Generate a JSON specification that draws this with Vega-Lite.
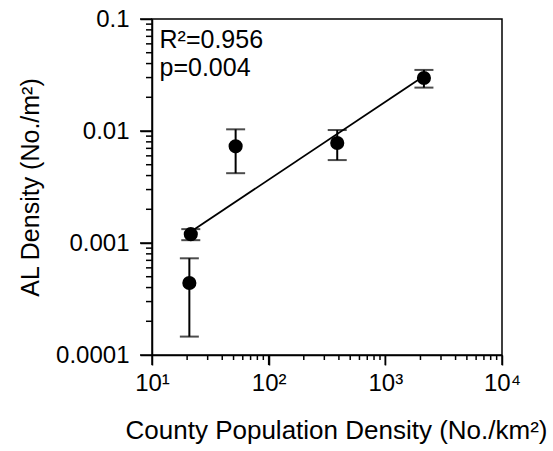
{
  "$schema": "https://vega.github.io/schema/vega-lite/v6.json",
  "width": 350,
  "height": 336,
  "autosize": "none",
  "padding": {"left": 152, "top": 19, "right": 51, "bottom": 96},
  "background": "white",
  "config": {
    "font": "Liberation Sans",
    "view": {"stroke": "black", "strokeWidth": 1.5},
    "axis": {
      "grid": false,
      "ticks": true,
      "domain": true,
      "domainColor": "#000000",
      "domainWidth": 1.5,
      "tickColor": "#000000",
      "tickWidth": 1.5,
      "labelColor": "#000000",
      "titleColor": "#000000",
      "labelFont": "Liberation Sans",
      "titleFont": "Liberation Sans",
      "labelFontSize": 24,
      "titleFontSize": 25,
      "titleFontWeight": "normal",
      "labelOverlap": false,
      "labelFlush": false
    }
  },
  "datasets": {
    "pts": [
      {"x": 21.5, "y": 0.00120, "lo": 0.00106, "hi": 0.00133},
      {"x": 20.9, "y": 0.000439, "lo": 0.000146, "hi": 0.00073},
      {"x": 52.1, "y": 0.0073, "lo": 0.0042, "hi": 0.01035},
      {"x": 387, "y": 0.00781, "lo": 0.0055, "hi": 0.0102},
      {"x": 2142, "y": 0.0297, "lo": 0.0244, "hi": 0.0351}
    ],
    "fit": [
      {"x": 22.6, "y": 0.001306},
      {"x": 2099, "y": 0.0305}
    ],
    "xMajor": [{"v": 10}, {"v": 100}, {"v": 1000}, {"v": 10000}],
    "xMinor": [{"v": 20}, {"v": 30}, {"v": 40}, {"v": 50}, {"v": 60}, {"v": 70}, {"v": 80}, {"v": 90}, {"v": 200}, {"v": 300}, {"v": 400}, {"v": 500}, {"v": 600}, {"v": 700}, {"v": 800}, {"v": 900}, {"v": 2000}, {"v": 3000}, {"v": 4000}, {"v": 5000}, {"v": 6000}, {"v": 7000}, {"v": 8000}, {"v": 9000}],
    "yMajor": [{"v": 0.0001}, {"v": 0.001}, {"v": 0.01}, {"v": 0.1}],
    "yMinor": [{"v": 0.0002}, {"v": 0.0003}, {"v": 0.0004}, {"v": 0.0005}, {"v": 0.0006}, {"v": 0.0007}, {"v": 0.0008}, {"v": 0.0009}, {"v": 0.002}, {"v": 0.003}, {"v": 0.004}, {"v": 0.005}, {"v": 0.006}, {"v": 0.007}, {"v": 0.008}, {"v": 0.009}, {"v": 0.02}, {"v": 0.03}, {"v": 0.04}, {"v": 0.05}, {"v": 0.06}, {"v": 0.07}, {"v": 0.08}, {"v": 0.09}]
  },
  "layer": [
    {
      "data": {"name": "pts"},
      "mark": {"type": "errorbar", "color": "black", "ticks": {"size": 19, "thickness": 2, "color": "black"}, "rule": {"strokeWidth": 2, "color": "black"}},
      "encoding": {
        "x": {
          "field": "x", "type": "quantitative",
          "scale": {"type": "log", "domain": [10, 10000], "nice": false},
          "title": "County Population Density (No./km²)",
          "axis": {
            "orient": "bottom",
            "values": [10, 100, 1000, 10000],
            "labelExpr": "datum.value == 10 ? '10¹' : datum.value == 100 ? '10²' : datum.value == 1000 ? '10³' : '10⁴'",
            "tickSize": 10,
            "labelPadding": 6,
            "titleFontSize": 26,
            "titlePadding": 22,
            "titleX": 184
          }
        },
        "y": {
          "field": "lo", "type": "quantitative",
          "scale": {"type": "log", "domain": [0.0001, 0.1], "nice": false},
          "title": "AL Density (No./m²)",
          "axis": {
            "orient": "left",
            "values": [0.0001, 0.001, 0.01, 0.1],
            "labelExpr": "datum.value == 0.0001 ? '0.0001' : datum.value == 0.001 ? '0.001' : datum.value == 0.01 ? '0.01' : '0.1'",
            "tickSize": 12,
            "labelPadding": 11,
            "titlePadding": 12
          }
        },
        "y2": {"field": "hi"}
      }
    },
    {
      "data": {"name": "xMajor"},
      "mark": {"type": "tick", "orient": "vertical", "color": "black", "size": 10, "thickness": 1.5, "opacity": 1, "clip": false},
      "encoding": {
        "x": {"field": "v", "type": "quantitative"},
        "y": {"datum": 0.0001, "type": "quantitative"},
        "yOffset": {"value": 5}
      }
    },
    {
      "data": {"name": "xMinor"},
      "mark": {"type": "tick", "orient": "vertical", "color": "black", "size": 5, "thickness": 1.5, "opacity": 1, "clip": false},
      "encoding": {
        "x": {"field": "v", "type": "quantitative"},
        "y": {"datum": 0.0001, "type": "quantitative"},
        "yOffset": {"value": 2.5}
      }
    },
    {
      "data": {"name": "yMajor"},
      "mark": {"type": "tick", "orient": "horizontal", "color": "black", "size": 12, "thickness": 1.5, "opacity": 1, "clip": false},
      "encoding": {
        "y": {"field": "v", "type": "quantitative"},
        "x": {"datum": 10, "type": "quantitative"},
        "xOffset": {"value": -6}
      }
    },
    {
      "data": {"name": "yMinor"},
      "mark": {"type": "tick", "orient": "horizontal", "color": "black", "size": 6, "thickness": 1.5, "opacity": 1, "clip": false},
      "encoding": {
        "y": {"field": "v", "type": "quantitative"},
        "x": {"datum": 10, "type": "quantitative"},
        "xOffset": {"value": -3}
      }
    },
    {
      "data": {"name": "fit"},
      "mark": {"type": "line", "color": "black", "strokeWidth": 1.8},
      "encoding": {
        "x": {"field": "x", "type": "quantitative"},
        "y": {"field": "y", "type": "quantitative"}
      }
    },
    {
      "data": {"name": "pts"},
      "mark": {"type": "point", "shape": "circle", "filled": true, "color": "black", "opacity": 1, "size": 200},
      "encoding": {
        "x": {"field": "x", "type": "quantitative"},
        "y": {"field": "y", "type": "quantitative"}
      }
    },
    {
      "data": {"values": [{}]},
      "mark": {"type": "text", "text": "R²=0.956", "align": "left", "baseline": "alphabetic", "fontSize": 25, "font": "Liberation Sans", "color": "black"},
      "encoding": {
        "x": {"datum": 11.6, "type": "quantitative"},
        "y": {"datum": 0.0548, "type": "quantitative"}
      }
    },
    {
      "data": {"values": [{}]},
      "mark": {"type": "text", "text": "p=0.004", "align": "left", "baseline": "alphabetic", "fontSize": 25, "font": "Liberation Sans", "color": "black"},
      "encoding": {
        "x": {"datum": 11.6, "type": "quantitative"},
        "y": {"datum": 0.0312, "type": "quantitative"}
      }
    }
  ]
}
